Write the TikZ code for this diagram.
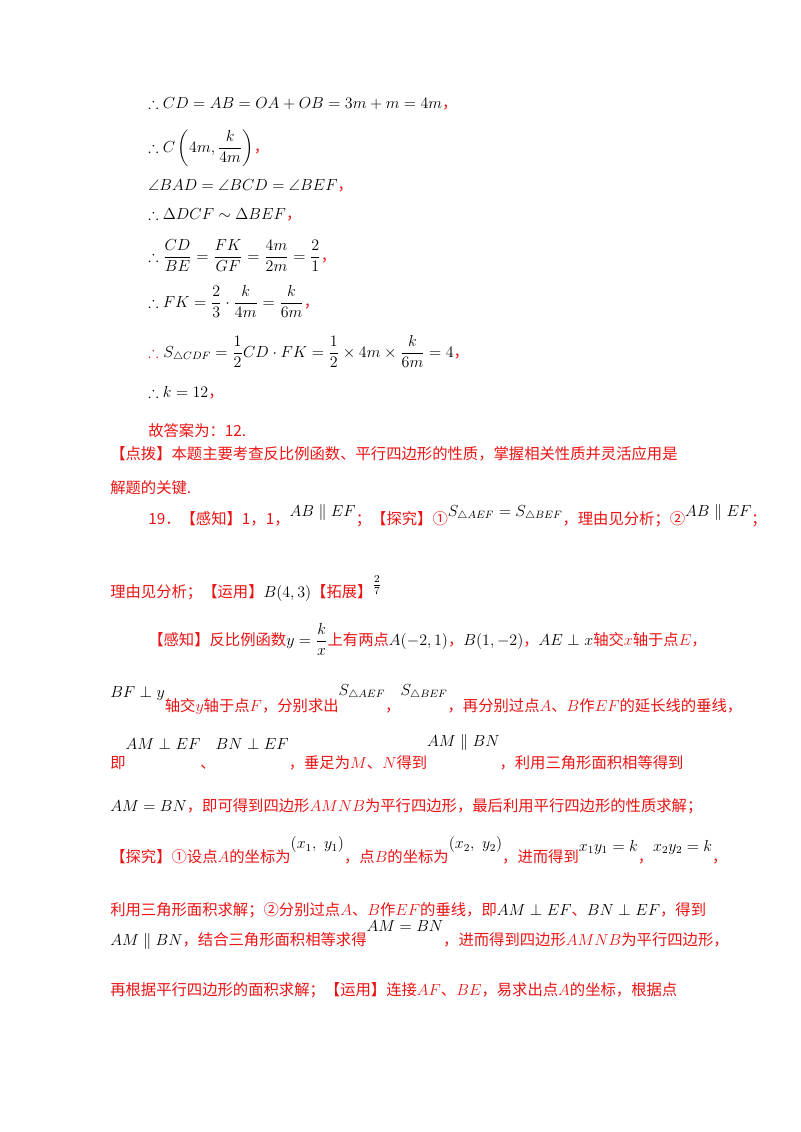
\documentclass[tikz,border=0pt]{standalone}
\usepackage{amsmath,amssymb}
\usepackage{fontspec}
\newfontfamily\cjk{Noto Sans CJK SC}
\definecolor{rd}{RGB}{235,20,20}
\newcommand{\rt}[1]{\textcolor{rd}{\cjk #1}}
\begin{document}
\begin{tikzpicture}[x=0.75pt,y=-0.75pt,
  ln/.style={anchor=base west,inner sep=0pt,font=\fontsize{11.5}{14}\selectfont}]
\useasboundingbox (0,0) rectangle (800,1132);
\fill[white] (0,0) rectangle (800,1132);
\node[ln] (l1) at (148,108) {$\therefore CD=AB=OA+OB=3m+m=4m$\rt{，}};
\node[ln] (l2) at (148,152) {$\therefore C\left(4m,\dfrac{k}{4m}\right)$\rt{，}};
\node[ln] (l3) at (148,190) {$\angle BAD=\angle BCD=\angle BEF$\rt{，}};
\node[ln] (l4) at (148,219) {$\therefore \Delta DCF\sim\Delta BEF$\rt{，}};
\node[ln] (l5) at (148,261) {$\therefore\dfrac{CD}{BE}=\dfrac{FK}{GF}=\dfrac{4m}{2m}=\dfrac{2}{1}$\rt{，}};
\node[ln] (l6) at (148,307) {$\therefore FK=\dfrac{2}{3}\cdot\dfrac{k}{4m}=\dfrac{k}{6m}$\rt{，}};
\node[ln] (l7) at (148,357) {\textcolor{rd}{$\therefore$}\ $S_{\triangle CDF}=\dfrac12 CD\cdot FK=\dfrac12\times4m\times\dfrac{k}{6m}=4$\rt{，}};
\node[ln] (l8) at (148,397) {$\therefore k=12$\rt{，}};
\node[ln] (l9) at (148,436) {\rt{故答案为：12.}};
\node[ln] (l10) at (110,459) {\rt{【点拨】本题主要考查反比例函数、平行四边形的性质，掌握相关性质并灵活应用是}};
\node[ln] (l11) at (110,493) {\rt{解题的关键.}};
\node[ln] (l12) at (148,524) {\rt{19．【感知】1，1，}\raisebox{6pt}{$AB\parallel EF$}\rt{；【探究】①}\raisebox{6pt}{$S_{\triangle AEF}=S_{\triangle BEF}$}\rt{，理由见分析；②}\raisebox{6pt}{$AB\parallel EF$}\rt{；}};
\node[ln] (l13) at (110,597) {\rt{理由见分析；【运用】}$B(4,3)$\rt{【拓展】}\raisebox{6pt}{$\frac{2}{7}$}};
\node[ln] (l14) at (148,645) {\rt{【感知】反比例函数}$y=\dfrac{k}{x}$\rt{上有两点}$A(-2,1)$\rt{，}$B(1,-2)$\rt{，}$AE\perp x$\rt{轴交}\textcolor{rd}{$x$}\rt{轴于点}\textcolor{rd}{$E$}\rt{，}};
\node[ln] (l15) at (110,711) {\raisebox{10pt}{$BF\perp y$}\rt{轴交}\textcolor{rd}{$y$}\rt{轴于点}\textcolor{rd}{$F$}\rt{，分别求出}\raisebox{12pt}{$S_{\triangle AEF}$}\rt{，}\raisebox{12pt}{$S_{\triangle BEF}$}\rt{，再分别过点}\textcolor{rd}{$A$}\rt{、}\textcolor{rd}{$B$}\rt{作}\textcolor{rd}{$EF$}\rt{的延长线的垂线，}};
\node[ln] (l16) at (110,768) {\rt{即}\raisebox{14pt}{$AM\perp EF$}\rt{、}\raisebox{14pt}{$BN\perp EF$}\rt{，垂足为}\textcolor{rd}{$M$}\rt{、}\textcolor{rd}{$N$}\rt{得到}\raisebox{16pt}{$AM\parallel BN$}\rt{，利用三角形面积相等得到}};
\node[ln] (l17) at (110,811) {$AM=BN$\rt{，即可得到四边形}\textcolor{rd}{$AMNB$}\rt{为平行四边形，最后利用平行四边形的性质求解；}};
\node[ln] (l18) at (110,862) {\rt{【探究】①设点}\textcolor{rd}{$A$}\rt{的坐标为}\raisebox{10pt}{$(x_1,\ y_1)$}\rt{，点}\textcolor{rd}{$B$}\rt{的坐标为}\raisebox{10pt}{$(x_2,\ y_2)$}\rt{，进而得到}\raisebox{8pt}{$x_1y_1=k$}\rt{，}\raisebox{8pt}{$x_2y_2=k$}\rt{，}};
\node[ln] (l19) at (110,915) {\rt{利用三角形面积求解；②分别过点}\textcolor{rd}{$A$}\rt{、}\textcolor{rd}{$B$}\rt{作}\textcolor{rd}{$EF$}\rt{的垂线，即}$AM\perp EF$\rt{、}$BN\perp EF$\rt{，得到}};
\node[ln] (l20) at (110,945) {$AM\parallel BN$\rt{，结合三角形面积相等求得}\raisebox{10pt}{$AM=BN$}\rt{，进而得到四边形}\textcolor{rd}{$AMNB$}\rt{为平行四边形，}};
\node[ln] (l21) at (110,995) {\rt{再根据平行四边形的面积求解；【运用】连接}\textcolor{rd}{$AF$}\rt{、}\textcolor{rd}{$BE$}\rt{，易求出点}\textcolor{rd}{$A$}\rt{的坐标，根据点}};
\end{tikzpicture}
\end{document}
